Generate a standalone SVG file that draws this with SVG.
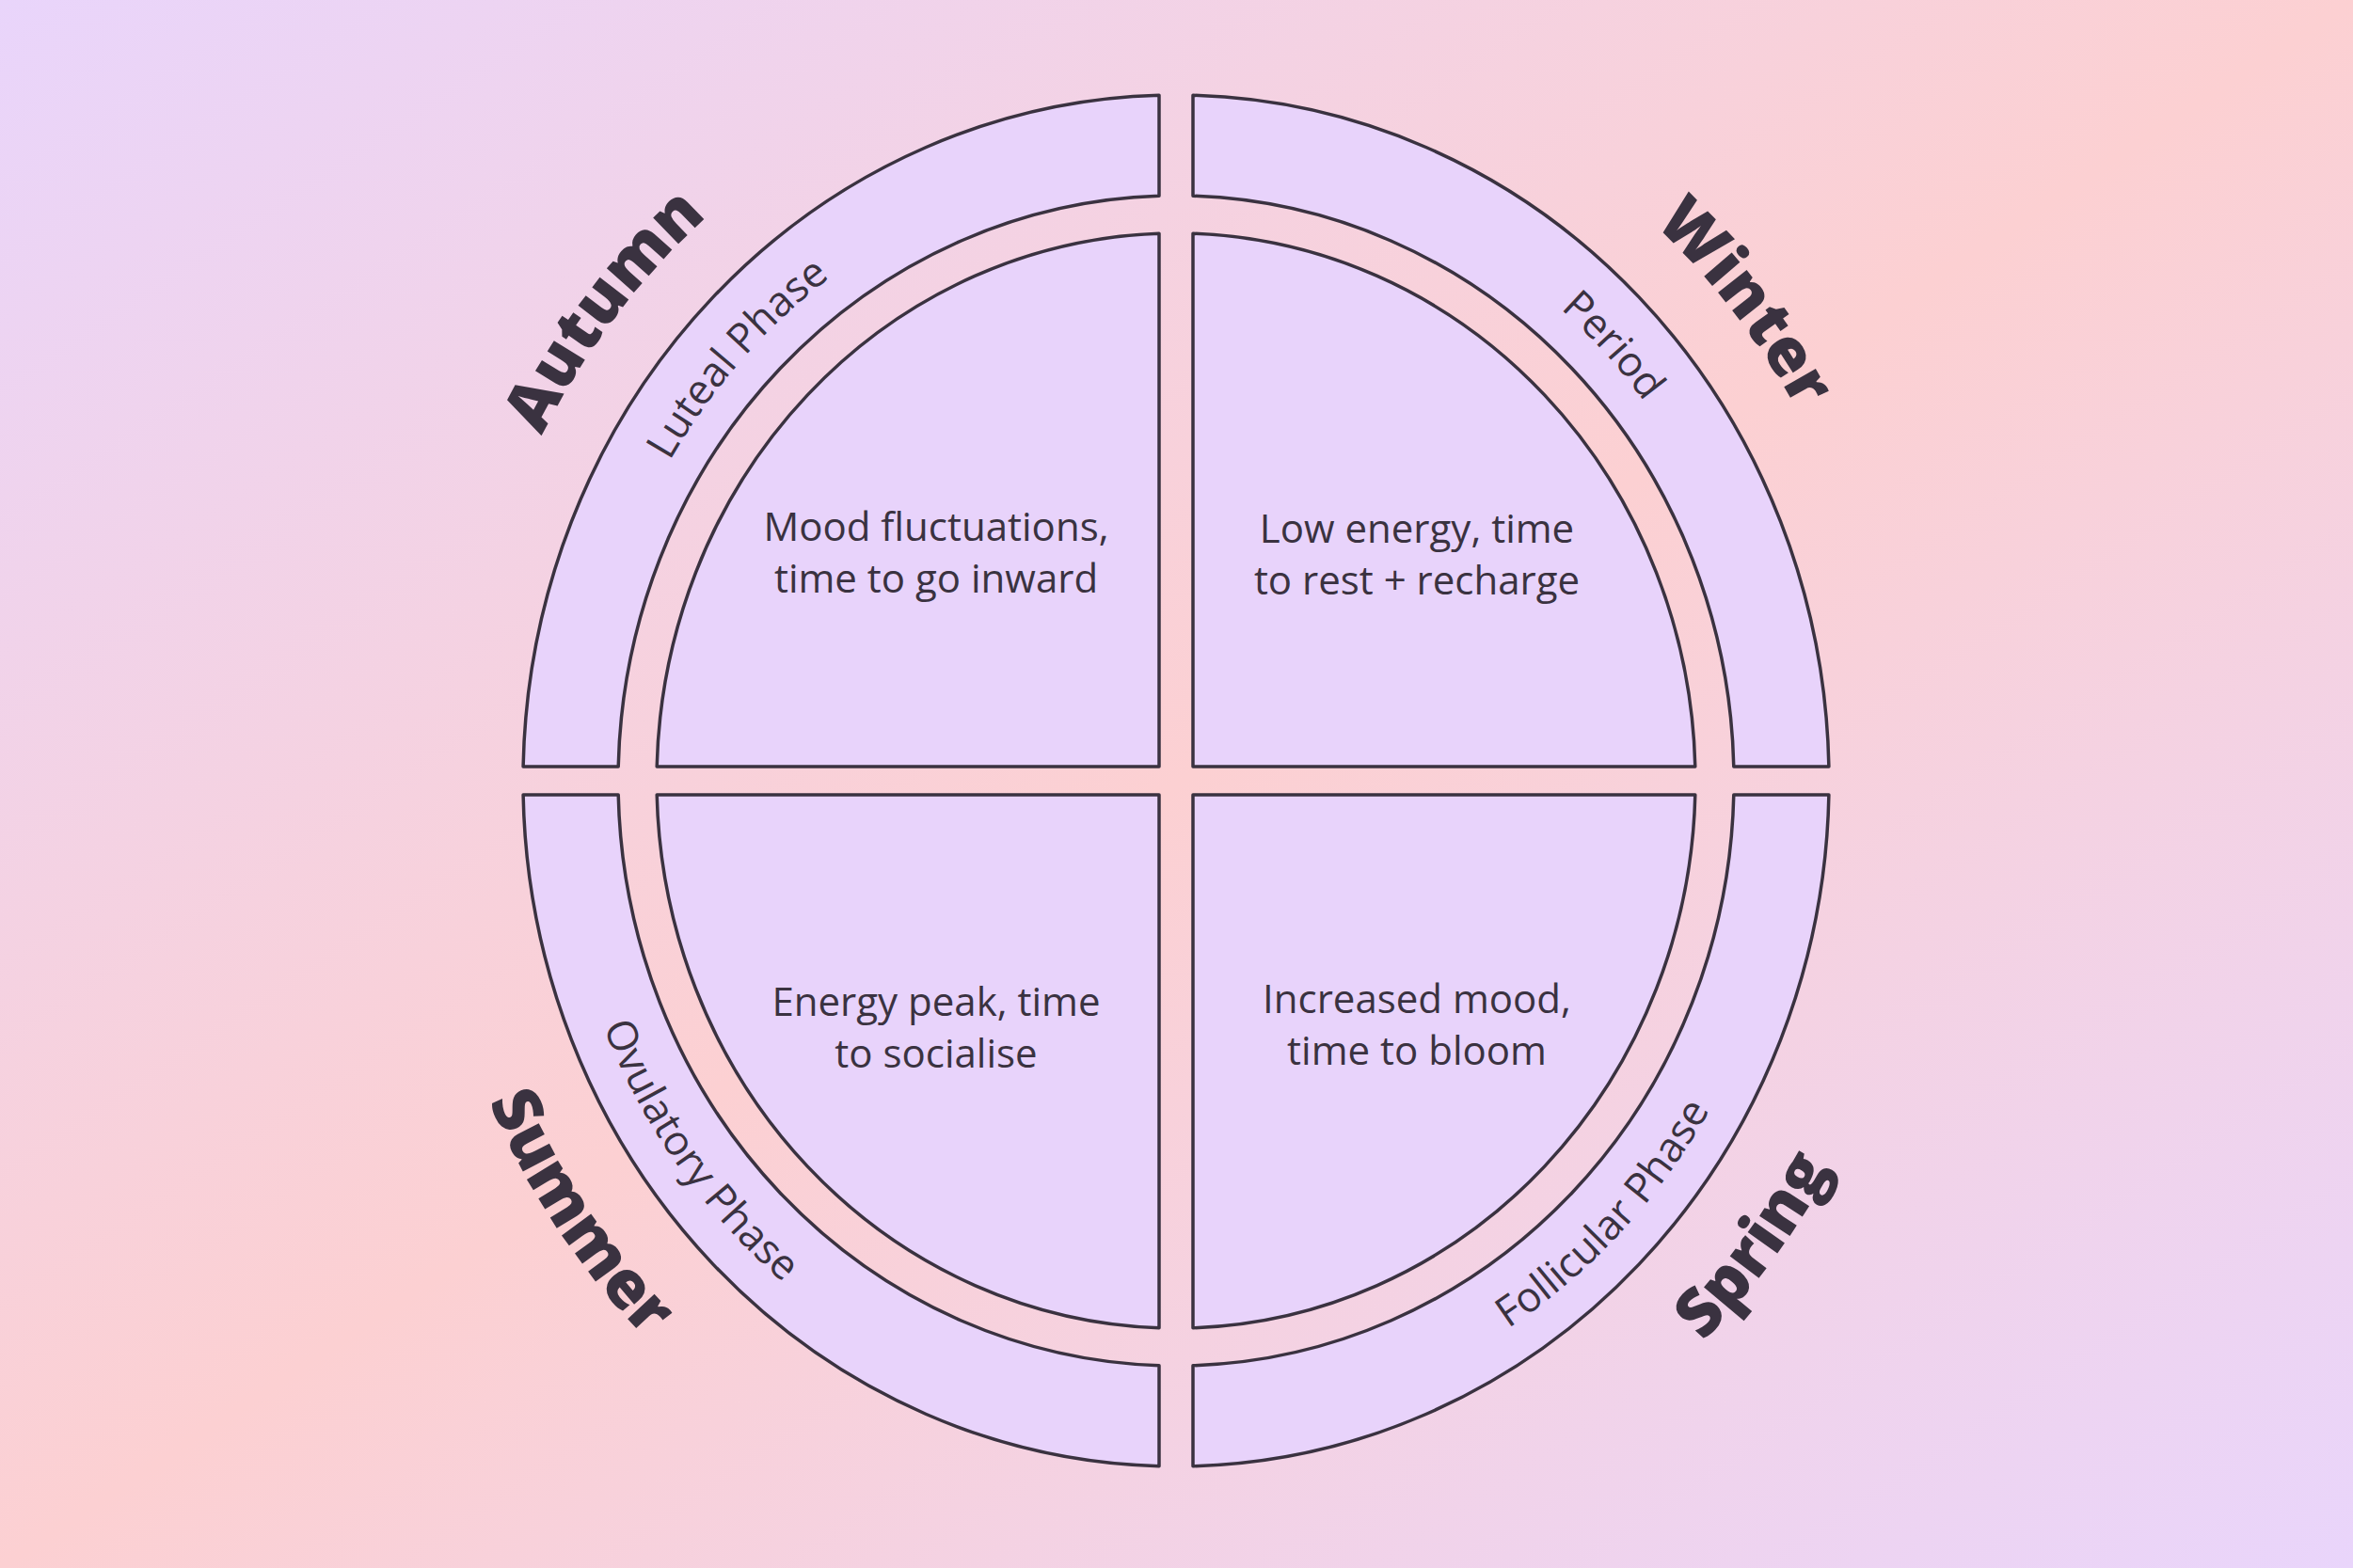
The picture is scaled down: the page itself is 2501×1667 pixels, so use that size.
<svg xmlns="http://www.w3.org/2000/svg" width="2501" height="1667" viewBox="0 0 2501 1667">
<defs>
<linearGradient id="bg" x1="0" y1="0" x2="1" y2="1">
<stop offset="0" stop-color="#e9d5fb"/>
<stop offset="0.5" stop-color="#fcd0d2"/>
<stop offset="1" stop-color="#e9d5fb"/>
</linearGradient>
<path id="pLut" d="M628.3 738.3 A628 660 0 0 1 1119.4 184.5"/>
<path id="pPer" d="M1370 181.9 A628 660 0 0 1 1870.5 727"/>
<path id="pOvu" d="M592.3 851.7 A658 690 0 0 0 1044.7 1485.5"/>
<path id="pFol" d="M1371 1508.3 A658 690 0 0 0 1899.4 942.5"/>
<path id="pAut" d="M491.5 780 A760 795 0 0 1 1035.7 67.6"/>
<path id="pWin" d="M1456 64.4 A760 795 0 0 1 2007.7 770.4"/>
<path id="pSum" d="M450 830 A800 835 0 0 0 976.4 1614.9"/>
<path id="pSpr" d="M1485.2 1628.3 A800 835 0 0 0 2049 872.3"/>
</defs>
<style>
.s{fill:#e8d3fb;stroke:#3a3240;stroke-width:3.5;stroke-linejoin:round}
.q{font-family:"Open Sans","Liberation Sans",sans-serif;font-size:42px;fill:#3a3240;text-anchor:middle}
.ph{font-family:"Open Sans","Liberation Sans",sans-serif;font-size:44px;fill:#3a3240;text-anchor:middle}
.se{font-family:"Open Sans","Liberation Sans",sans-serif;font-size:70px;font-weight:800;fill:#3a3240;text-anchor:middle}
</style>
<rect width="2501" height="1667" fill="url(#bg)"/>
<g id="ring-tr"><path class="s" d="M1268 101.3 A694 729 0 0 1 1943.9 815 L1842.8 815 A593 622 0 0 0 1268 208.3 Z"/></g>
<g id="ring-tl"><path class="s" d="M1232 101.3 A694 729 0 0 0 556.1 815 L657.2 815 A593 622 0 0 1 1232 208.3 Z"/></g>
<g id="ring-br"><path class="s" d="M1268 1558.7 A694 729 0 0 0 1943.9 845 L1842.8 845 A593 622 0 0 1 1268 1451.7 Z"/></g>
<g id="ring-bl"><path class="s" d="M1232 1558.7 A694 729 0 0 1 556.1 845 L657.2 845 A593 622 0 0 0 1232 1451.7 Z"/></g>
<g id="quad-tr"><path class="s" d="M1268 815 L1268 248.3 A552 582 0 0 1 1801.8 815 Z"/></g>
<g id="quad-tl"><path class="s" d="M1232 815 L1232 248.3 A552 582 0 0 0 698.2 815 Z"/></g>
<g id="quad-br"><path class="s" d="M1268 845 L1268 1411.7 A552 582 0 0 0 1801.8 845 Z"/></g>
<g id="quad-bl"><path class="s" d="M1232 845 L1232 1411.7 A552 582 0 0 1 698.2 845 Z"/></g>
<g id="texts">
<text class="q" x="995" y="575">Mood fluctuations,</text>
<text class="q" x="995" y="630">time to go inward</text>
<text class="q" x="1506" y="577">Low energy, time</text>
<text class="q" x="1506" y="632">to rest + recharge</text>
<text class="q" x="995" y="1080">Energy peak, time</text>
<text class="q" x="995" y="1135">to socialise</text>
<text class="q" x="1506" y="1077">Increased mood,</text>
<text class="q" x="1506" y="1132">time to bloom</text>
<text class="ph"><textPath href="#pLut" startOffset="50%">Luteal Phase</textPath></text>
<text class="ph"><textPath href="#pPer" startOffset="50%">Period</textPath></text>
<text class="ph"><textPath href="#pOvu" startOffset="50%">Ovulatory Phase</textPath></text>
<text class="ph"><textPath href="#pFol" startOffset="50%">Follicular Phase</textPath></text>
<text class="se"><textPath href="#pAut" startOffset="50%">Autumn</textPath></text>
<text class="se"><textPath href="#pWin" startOffset="50%">Winter</textPath></text>
<text class="se"><textPath href="#pSum" startOffset="50%">Summer</textPath></text>
<text class="se"><textPath href="#pSpr" startOffset="50%">Spring</textPath></text>
</g>
</svg>
